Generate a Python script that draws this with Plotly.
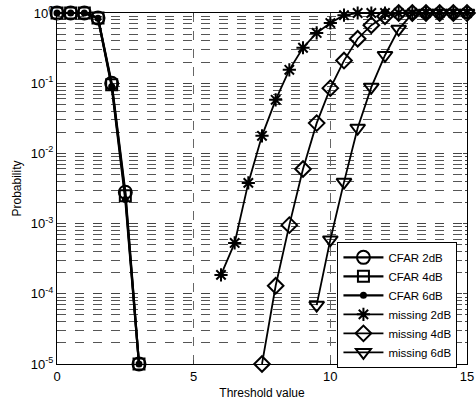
import plotly.graph_objects as go

# ---- data ----
cfar_x = [0, 0.5, 1, 1.5, 2, 2.5, 3]
cfar_2db = [1, 1, 1, 0.85, 0.10, 2.8e-3, 1e-5]
cfar_4db = [1, 1, 1, 0.85, 0.095, 2.5e-3, 1e-5]
cfar_6db = [1, 1, 1, 0.84, 0.090, 2.2e-3, 1e-5]

miss2_x = [6.0 + 0.5 * i for i in range(19)]
miss2_y = [1.86e-4, 5.3e-4, 3.8e-3, 0.0178, 0.058, 0.155, 0.32, 0.52, 0.72, 0.93,
           1, 1, 1, 1, 1, 1, 1, 1, 1]
miss4_x = [7.5 + 0.5 * i for i in range(16)]
miss4_y = [1e-5, 1.3e-4, 9.5e-4, 6e-3, 0.027, 0.085, 0.21, 0.43, 0.67, 0.9,
           1, 1, 1, 1, 1, 1]
miss6_x = [9.5 + 0.5 * i for i in range(12)]
miss6_y = [6.9e-5, 5.9e-4, 3.9e-3, 0.023, 0.088, 0.25, 0.59, 0.97, 1, 1, 1, 1]

x_ticks = [0, 5, 10, 15]
y_tickvals = [1, 1e-1, 1e-2, 1e-3, 1e-4, 1e-5]
y_ticktext = ["10<sup>0</sup>", "10<sup>-1</sup>", "10<sup>-2</sup>",
              "10<sup>-3</sup>", "10<sup>-4</sup>", "10<sup>-5</sup>"]

series = [
    ("CFAR 2dB", cfar_x, cfar_2db, "circle-open", 13, 2.2),
    ("CFAR 4dB", cfar_x, cfar_4db, "square-open", 11, 2.2),
    ("CFAR 6dB", cfar_x, cfar_6db, "circle", 5, 2.2),
    ("missing 2dB", miss2_x, miss2_y, "asterisk-open", 11, 1.8),
    ("missing 4dB", miss4_x, miss4_y, "diamond-open", 12, 1.8),
    ("missing 6dB", miss6_x, miss6_y, "triangle-down-open", 13, 1.8),
]

fig = go.Figure()
for name, xs, ys, sym, sz, lw in series:
    fig.add_trace(go.Scatter(
        x=xs, y=ys, name=name, mode="lines+markers",
        line=dict(color="black", width=lw),
        marker=dict(symbol=sym, size=sz, color="black",
                    line=dict(color="black", width=2)),
        cliponaxis=False,
    ))

FONT = "Liberation Sans, Arial, sans-serif"

fig.update_layout(
    width=476, height=400,
    margin=dict(l=57, r=9, t=13, b=36),
    paper_bgcolor="white", plot_bgcolor="white",
    font=dict(family=FONT, size=12, color="black"),
    showlegend=True,
    legend=dict(x=0.684, y=0.348, xanchor="left", yanchor="top",
                bordercolor="black", borderwidth=1, bgcolor="white",
                font=dict(family=FONT, size=11.5, color="black"),
                tracegroupgap=0, itemwidth=40),
)
fig.update_xaxes(
    range=[0, 15], tickvals=x_ticks, ticks="inside", ticklen=4,
    tickfont=dict(size=13), ticklabeloverflow="allow",
    showline=True, linecolor="black", linewidth=1, mirror="ticks",
    showgrid=True, gridcolor="#666", griddash="dash", gridwidth=1,
    zeroline=False, automargin=False,
    title=dict(text="Threshold value", standoff=8, font=dict(size=12)),
)
fig.update_yaxes(
    type="log", range=[-5, 0], tickvals=y_tickvals, ticktext=y_ticktext,
    ticks="inside", ticklen=4, tickfont=dict(size=13),
    showline=True, linecolor="black", linewidth=1, mirror="ticks",
    showgrid=True, gridcolor="#444", griddash="dash", gridwidth=1,
    minor=dict(showgrid=True, gridcolor="#555", griddash="dash", gridwidth=1,
               ticks="inside", ticklen=2, dtick="D1"),
    zeroline=False, automargin=False,
    title=dict(text="Probability", standoff=6, font=dict(size=12)),
)

fig.write_html("out.html",
               config={"displayModeBar": False},
               post_script="document.body.style.margin='0';document.body.style.overflow='hidden';")
